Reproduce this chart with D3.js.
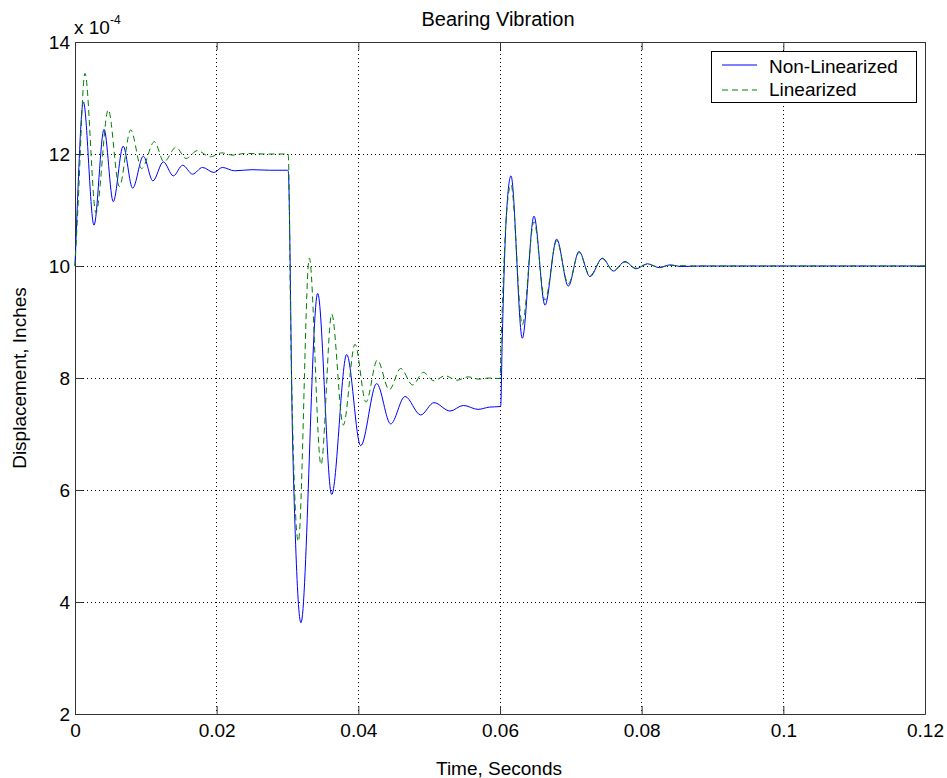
<!DOCTYPE html>
<html><head><meta charset="utf-8">
<script src="https://cdn.jsdelivr.net/npm/d3@7"></script>
<style>
body{margin:0;background:#fff;}
text{font-family:"Liberation Sans",Arial,sans-serif;fill:#000;}
</style></head>
<body><svg id="c" width="947" height="778"></svg>
<script>
// Values in units of 1e-4 inches
const blueT = [0,0.0003,0.00118,0.00268,0.0041,0.0054,0.0068,0.00814,0.00965,0.011,0.01247,0.01388,0.0152,0.0166,0.018,0.0196,0.0208,0.0225,0.025,0.0275,0.0300,
  0.0301,0.0307,0.0311,0.0319,0.03426,0.03624,0.03836,0.04033,0.04259,0.04457,0.04659,0.0488,0.05068,0.05294,0.05482,0.0569,0.0585,0.0600,
  0.0601,0.0603,0.0609,0.06155,0.06315,0.0648,0.06635,0.068,0.06964,0.07116,0.0727,0.07445,0.076,0.07765,0.0792,0.0808,0.0825,0.084,0.0857,0.088,0.12];
const blueV = [10,11.0,12.93,10.73,12.44,11.15,12.14,11.39,11.96,11.52,11.86,11.61,11.80,11.64,11.76,11.67,11.76,11.70,11.72,11.71,11.71,
  11.70,7.0,5.2,3.63,9.51,5.92,8.42,6.79,7.90,7.18,7.67,7.34,7.56,7.41,7.51,7.44,7.48,7.49,
  7.5,8.6,10.9,11.61,8.71,10.89,9.30,10.48,9.64,10.26,9.81,10.14,9.91,10.08,9.95,10.04,9.97,10.02,9.99,10.0,10.0];
const greenT = [0,0.0004,0.00141,0.00296,0.0047,0.00626,0.00786,0.00941,0.0112,0.01256,0.01426,0.01567,0.01727,0.0191,0.0207,0.0223,0.024,0.027,0.0300,
  0.0301,0.0305,0.03153,0.03308,0.03473,0.03624,0.03788,0.03953,0.04108,0.04268,0.04437,0.04598,0.04767,0.04917,0.05068,0.05224,0.05389,0.0555,0.057,0.0585,0.0600,
  0.0602,0.0609,0.06155,0.06315,0.0648,0.06635,0.068,0.06964,0.07116,0.0727,0.07445,0.076,0.07765,0.0792,0.0808,0.0825,0.084,0.088,0.12];
const greenV = [10,11.0,13.44,10.95,12.79,11.42,12.43,11.74,12.22,11.86,12.12,11.92,12.06,11.95,12.02,11.98,12.01,12.0,12.0,
  12.0,8.5,5.08,10.14,6.45,9.14,7.16,8.60,7.57,8.32,7.79,8.17,7.875,8.10,7.95,8.04,7.96,8.02,7.98,8.0,7.99,
  8.8,10.9,11.45,8.95,10.79,9.39,10.45,9.68,10.24,9.83,10.13,9.92,10.07,9.96,10.03,9.98,10.01,10.0,10.0];
const xTicks = [0,0.02,0.04,0.06,0.08,0.1,0.12];
const xTickLabels = ["0","0.02","0.04","0.06","0.08","0.1","0.12"];
const yTicks = [2,4,6,8,10,12,14];
const seriesNames = ["Non-Linearized","Linearized"];

const FS = 19;
const svg = d3.select("#c");
const L=75,R=925,T=42,B=714;
const x = d3.scaleLinear().domain([0,0.12]).range([L,R]);
const y = d3.scaleLinear().domain([2,14]).range([B,T]);

// grid
const g = svg.append("g");
g.selectAll(".gx").data(xTicks.slice(1,-1)).enter().append("line")
  .attr("x1",d=>x(d)).attr("x2",d=>x(d)).attr("y1",T).attr("y2",B)
  .attr("stroke","#000").attr("stroke-width",1).attr("stroke-dasharray","1,3").attr("shape-rendering","crispEdges");
g.selectAll(".gy").data(yTicks.slice(1,-1)).enter().append("line")
  .attr("y1",d=>y(d)).attr("y2",d=>y(d)).attr("x1",L).attr("x2",R)
  .attr("stroke","#000").attr("stroke-width",1).attr("stroke-dasharray","1,3").attr("shape-rendering","crispEdges");

// axes
const xb = d3.axisBottom(x).tickValues(xTicks).tickFormat((d,i)=>xTickLabels[i]).tickSizeInner(-8).tickSizeOuter(0).tickPadding(10);
const xt = d3.axisTop(x).tickValues(xTicks).tickFormat("").tickSizeInner(-8).tickSizeOuter(0);
const yl = d3.axisLeft(y).tickValues(yTicks).tickSizeInner(-8).tickSizeOuter(0).tickPadding(5);
const yr = d3.axisRight(y).tickValues(yTicks).tickFormat("").tickSizeInner(-8).tickSizeOuter(0);
function style(sel){sel.select(".domain").attr("stroke","#333");sel.selectAll(".tick line").attr("stroke","#333");
  sel.selectAll("text").attr("font-size",FS).attr("font-family","Liberation Sans, Arial, sans-serif").attr("fill","#000");}
svg.append("g").attr("transform",`translate(0,${B})`).call(xb).call(style);
svg.append("g").attr("transform",`translate(0,${T})`).call(xt).call(style);
svg.append("g").attr("transform",`translate(${L},0)`).call(yl).call(style);
svg.append("g").attr("transform",`translate(${R},0)`).call(yr).call(style);

// lines
const line = d3.line().x(d=>x(d[0])).y(d=>y(d[1])).curve(d3.curveMonotoneX);
const blue = blueT.map((t,i)=>[t,blueV[i]]);
const green = greenT.map((t,i)=>[t,greenV[i]]);
svg.append("path").datum(blue).attr("d",line).attr("fill","none").attr("stroke","#0000ff").attr("stroke-width",1);
svg.append("path").datum(green).attr("d",line).attr("fill","none").attr("stroke","#008000").attr("stroke-width",1).attr("stroke-dasharray","6,4");

// titles
svg.append("text").attr("x",498).attr("y",26).attr("text-anchor","middle").attr("font-size",20).text("Bearing Vibration");
svg.append("text").attr("x",499).attr("y",775).attr("text-anchor","middle").attr("font-size",FS).text("Time, Seconds");
svg.append("text").attr("transform","translate(26,378) rotate(-90)").attr("text-anchor","middle").attr("font-size",FS).text("Displacement, Inches");
const ex = svg.append("text").attr("x",74).attr("y",34).attr("font-size",FS);
ex.append("tspan").text("x 10");
ex.append("tspan").attr("font-size",12).attr("dy",-10).text("-4");

// legend
const lg = svg.append("g");
lg.append("rect").attr("x",711.5).attr("y",51.5).attr("width",205).attr("height",51).attr("fill","#fff").attr("stroke","#000");
lg.append("line").attr("x1",722).attr("x2",757).attr("y1",65).attr("y2",65).attr("stroke","#0000ff");
lg.append("line").attr("x1",722).attr("x2",757).attr("y1",90).attr("y2",90).attr("stroke","#008000").attr("stroke-dasharray","6,4");
lg.append("text").attr("x",769).attr("y",73).attr("font-size",FS).text(seriesNames[0]);
lg.append("text").attr("x",769).attr("y",96).attr("font-size",FS).text(seriesNames[1]);
</script></body></html>
